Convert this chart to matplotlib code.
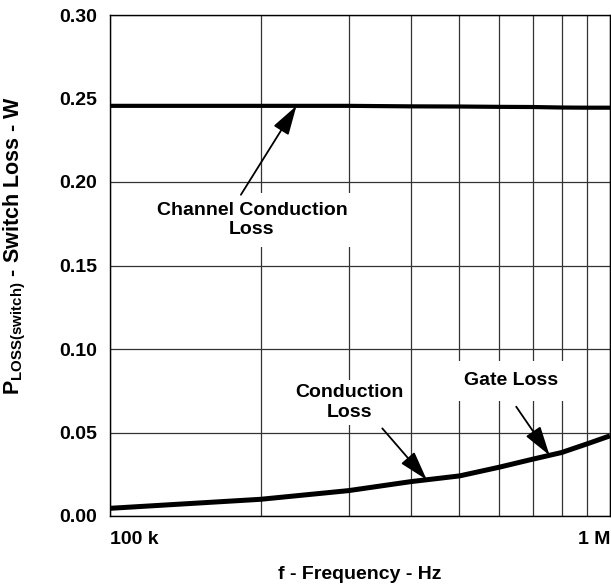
import numpy as np
import matplotlib
matplotlib.use("Agg")
import matplotlib.pyplot as plt
from matplotlib.ticker import FixedLocator, NullFormatter

plt.rcParams['font.family'] = ['Liberation Sans', 'DejaVu Sans']
plt.rcParams['font.weight'] = 'bold'
plt.rcParams['mathtext.fontset'] = 'custom'
plt.rcParams['mathtext.rm'] = 'Liberation Sans'
plt.rcParams['mathtext.bf'] = 'Liberation Sans:bold'

# switching frequency, Hz
freq = [100e3, 200e3, 300e3, 400e3, 500e3, 600e3, 700e3, 800e3, 900e3, 1000e3]
# channel conduction loss, W
channel_loss = [0.2456, 0.2456, 0.2456, 0.2453, 0.2452, 0.2450, 0.2449, 0.2446, 0.2445, 0.2445]
# conduction + gate loss, W
switch_loss = [0.0046, 0.0100, 0.0152, 0.0206, 0.0240, 0.0292, 0.0340, 0.0380, 0.0432, 0.0480]

x_major = [100e3, 1e6]
x_major_labels = ["100 k", "1 M"]
x_minor = [200e3, 300e3, 400e3, 500e3, 600e3, 700e3, 800e3, 900e3]
y_ticks = [0.0, 0.05, 0.10, 0.15, 0.20, 0.25, 0.30]

fig = plt.figure(figsize=(6.11, 5.88), dpi=100)
ax = fig.add_axes([110 / 611, 72 / 588, 500 / 611, 501 / 588])

ax.plot(freq, channel_loss, color="black", lw=3.0, solid_capstyle="butt", zorder=4)
ax.plot(freq, switch_loss, color="black", lw=3.6, solid_capstyle="butt", zorder=4)

ax.set_xscale("log")
ax.set_xlim(100e3, 1e6)
ax.set_ylim(0, 0.30)

ax.xaxis.set_major_locator(FixedLocator(x_major))
ax.set_xticklabels(x_major_labels)
ax.xaxis.set_minor_locator(FixedLocator(x_minor))
ax.xaxis.set_minor_formatter(NullFormatter())
ax.set_yticks(y_ticks)
ax.set_yticklabels(["%.2f" % v for v in y_ticks])

ax.tick_params(axis="both", which="both", length=0, labelsize=14)
ax.tick_params(axis="x", pad=11)
ax.tick_params(axis="y", pad=9)
for lbl, ha in zip(ax.get_xticklabels(), ["left", "right"]):
    lbl.set_horizontalalignment(ha)

ax.grid(True, which="both", color="#333333", lw=0.9, zorder=1)
ax.set_axisbelow(True)
# the channel loss trace runs along 0.25, so drop that grid line
ax.get_ygridlines()[5].set_visible(False)
for sp in ax.spines.values():
    sp.set_linewidth(1.0)
    sp.set_zorder(5)

ax.set_xlabel("f - Frequency - Hz", fontsize=14, fontweight="bold", labelpad=13)
ax.set_ylabel(r"$\mathbf{P}_{\mathrm{LOSS(switch)}}$ - Switch Loss - W",
              fontsize=15.5, fontweight="bold")
ax.yaxis.set_label_coords(-0.164, 0.54)

box = dict(facecolor="white", edgecolor="none")
ax.text(0.284, 0.591, "Channel Conduction\nLoss", transform=ax.transAxes,
        ha="center", va="center", fontsize=14, fontweight="bold", zorder=3,
        bbox=dict(box, pad=6))
ax.text(0.478, 0.2265, "Conduction\nLoss", transform=ax.transAxes,
        ha="center", va="center", fontsize=14, fontweight="bold", zorder=3,
        bbox=dict(box, pad=3))
ax.text(0.802, 0.2695, "Gate Loss", transform=ax.transAxes,
        ha="center", va="center", fontsize=14, fontweight="bold", zorder=3,
        bbox=dict(box, pad=8))

arrow = dict(arrowstyle="-|>,head_length=1.0,head_width=0.3", mutation_scale=18,
             color="black", lw=1.3, shrinkA=0, shrinkB=0)
# arrow tips sit on the curves; tails are offsets in points
pointers = [
    (236e3, channel_loss, (-40, -64)),
    (430e3, switch_loss, (-32, 37)),
    (757e3, switch_loss, (-24, 35)),
]
for fx, series, off in pointers:
    fy = np.interp(np.log10(fx), np.log10(freq), series)
    ax.annotate("", xy=(fx, fy), xytext=off, textcoords="offset points",
                arrowprops=arrow, zorder=6)

fig.savefig("out.png", dpi=100)
